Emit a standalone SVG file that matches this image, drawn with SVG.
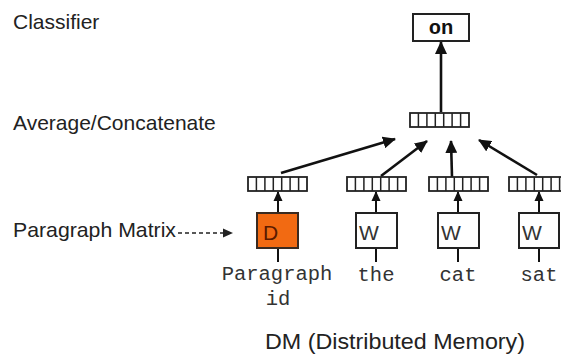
<svg xmlns="http://www.w3.org/2000/svg" width="561" height="356" viewBox="0 0 561 356">
<style>
.lbl{font-family:"Liberation Sans",Arial,sans-serif;font-size:21px;fill:#222}
.mono{font-family:"Liberation Mono","Courier New",monospace;font-size:20.5px;fill:#333;text-anchor:middle}
.box{fill:#fff;stroke:#222;stroke-width:2}
.dbox{fill:#f26a12;stroke:#3a2a20;stroke-width:2}
.cell{fill:#fff;stroke:#222;stroke-width:1.8}
.div{stroke:#222;stroke-width:1.5}
.conn{stroke:#111;stroke-width:2.6;fill:none}
.thin{stroke:#111;stroke-width:2;fill:none}
.dash{stroke:#222;stroke-width:1.6;fill:none;stroke-dasharray:4 3}
</style>
<defs>
<marker id="big" markerUnits="userSpaceOnUse" markerWidth="14" markerHeight="12" refX="12" refY="6" orient="auto">
<path d="M0,0 L13,6 L0,12 Z" fill="#111"/>
</marker>
<marker id="small" markerUnits="userSpaceOnUse" markerWidth="10" markerHeight="10" refX="9" refY="5" orient="auto">
<path d="M0,0.5 L10,5 L0,9.5 Z" fill="#111"/>
</marker>
<marker id="dsh" markerUnits="userSpaceOnUse" markerWidth="10" markerHeight="10" refX="9" refY="5" orient="auto">
<path d="M0,0.5 L10,5 L0,9.5 Z" fill="#222"/>
</marker>
<g id="vec">
<rect class="cell" x="0" y="0" width="59" height="14"/>
<path class="div" d="M8.4,0V14M16.9,0V14M25.3,0V14M33.7,0V14M42.1,0V14M50.6,0V14"/>
</g>
</defs>
<rect width="561" height="356" fill="#fff"/>

<g id="labels">
<text class="lbl" x="13" y="29">Classifier</text>
<text class="lbl" x="13" y="130">Average/Concatenate</text>
<text class="lbl" x="13" y="237" textLength="163" lengthAdjust="spacingAndGlyphs">Paragraph Matrix</text>
<text class="lbl" x="265" y="349" style="font-size:22px" textLength="260" lengthAdjust="spacingAndGlyphs">DM (Distributed Memory)</text>
</g>

<g id="connectors">
<line class="conn" x1="441" y1="112" x2="441" y2="42" marker-end="url(#big)"/>
<line class="conn" x1="281" y1="173" x2="395" y2="139" marker-end="url(#big)"/>
<line class="conn" x1="381" y1="176" x2="427" y2="141" marker-end="url(#big)"/>
<line class="conn" x1="452" y1="177" x2="451" y2="141" marker-end="url(#big)"/>
<line class="conn" x1="537" y1="175" x2="479" y2="140" marker-end="url(#big)"/>
<line class="thin" x1="278" y1="213" x2="278" y2="192" marker-end="url(#small)"/>
<line class="thin" x1="376" y1="213" x2="376" y2="192" marker-end="url(#small)"/>
<line class="thin" x1="458" y1="213" x2="458" y2="192" marker-end="url(#small)"/>
<line class="thin" x1="539" y1="213" x2="539" y2="192" marker-end="url(#small)"/>
<line class="thin" x1="278" y1="248" x2="278" y2="262"/>
<line class="thin" x1="376" y1="248" x2="376" y2="262"/>
<line class="thin" x1="458" y1="248" x2="458" y2="262"/>
<line class="thin" x1="539" y1="248" x2="539" y2="262"/>
<line class="dash" x1="178" y1="233" x2="232" y2="233" marker-end="url(#dsh)"/>
</g>

<g id="classifier">
<rect class="box" x="413" y="14" width="56" height="27"/>
<text class="mono" x="441" y="34" style="font-weight:bold;fill:#111">on</text>
</g>
<g id="avg"><use href="#vec" x="410" y="113"/></g>
<g id="vec-d"><use href="#vec" x="248" y="177"/></g>
<g id="vec-the"><use href="#vec" x="347" y="177"/></g>
<g id="vec-cat"><use href="#vec" x="429" y="177"/></g>
<g id="vec-sat"><use href="#vec" x="509" y="177"/></g>

<g id="node-d">
<rect class="dbox" x="257" y="213" width="41" height="35"/>
<text class="lbl" x="263" y="240" style="fill:#5a1a00">D</text>
</g>
<g id="node-the">
<rect class="box" x="356" y="213" width="41" height="35"/>
<text class="lbl" x="359" y="240" style="fill:#333">W</text>
</g>
<g id="node-cat">
<rect class="box" x="438" y="213" width="41" height="35"/>
<text class="lbl" x="441" y="240" style="fill:#333">W</text>
</g>
<g id="node-sat">
<rect class="box" x="519" y="213" width="40" height="35"/>
<text class="lbl" x="522" y="240" style="fill:#333">W</text>
</g>

<g id="words">
<text class="mono" x="277" y="280">Paragraph</text>
<text class="mono" x="278" y="305">id</text>
<text class="mono" x="376" y="281">the</text>
<text class="mono" x="458" y="281">cat</text>
<text class="mono" x="539" y="281">sat</text>
</g>
</svg>
